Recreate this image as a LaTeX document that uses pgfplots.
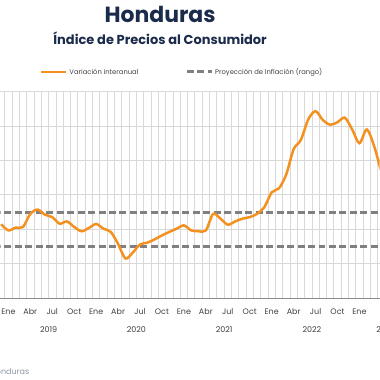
\documentclass[border=0pt]{standalone}
\usepackage{pgfplots}
\pgfplotsset{compat=1.18}
\usepackage{fontspec}
\setmainfont{Poppins}
\definecolor{navy}{HTML}{1B2B4B}
\definecolor{orangeL}{HTML}{F4901E}
\definecolor{dashg}{HTML}{808080}
\definecolor{gridg}{HTML}{D9D9D9}
\definecolor{axg}{HTML}{8C8C8C}
\definecolor{txtg}{HTML}{404040}
\definecolor{srcg}{HTML}{8C96A3}
\begin{document}
\begin{tikzpicture}
\path (0pt,0pt) rectangle (380pt,-380pt);
\node[font=\fontsize{22}{26}\selectfont\bfseries, text=navy] at (160pt,-14pt) {Honduras};
\node[font=\fontsize{13}{15}\selectfont\bfseries, text=navy] at (160pt,-38pt) {Índice de Precios al Consumidor};
% legend
\draw[orangeL, line width=2.5pt] (41pt,-72pt) -- (66pt,-72pt);
\node[anchor=west, inner sep=0pt, font=\fontsize{6.8}{8}\selectfont, text=txtg] at (69pt,-72pt) {Variación interanual};
\draw[dashg, line width=3pt, dash pattern=on 7pt off 3.5pt] (187pt,-72pt) -- (212pt,-72pt);
\node[anchor=west, inner sep=0pt, font=\fontsize{6.8}{8}\selectfont, text=txtg] at (215pt,-72pt) {Proyección de Inflación (rango)};
\begin{axis}[
  at={(0pt,-299pt)}, anchor=south west,
  scale only axis, width=380pt, height=207.3pt,
  xmin=-1.087, xmax=50.75, ymin=0, ymax=12,
  axis lines*=left,
  separate axis lines,
  x axis line style={draw=axg, line width=0.9pt},
  y axis line style={draw=none},
  ytick={0,2,...,12}, yticklabels={}, ymajorgrids,
  yticklabel style={overlay},
  major grid style={gridg, line width=0.8pt},
  ytick style={draw=none},
  xtick={0,3,...,51},
  xticklabels={Ene,Abr,Jul,Oct,Ene,Abr,Jul,Oct,Ene,Abr,Jul,Oct,Ene,Abr,Jul,Oct,Ene,Abr},
  xtick style={draw=none},
  xticklabel style={overlay, font=\fontsize{8}{9}\selectfont, text=txtg, anchor=center, yshift=-13.5pt, inner sep=0pt},
  minor xtick={-1.5,-0.5,...,55.5}, xminorgrids,
  minor grid style={gridg, line width=0.8pt},
  minor tick length=0pt,
  extra x ticks={-0.5,11.5,23.5,35.5,47.5},
  extra x tick labels={},
  extra x tick style={grid=none, tick align=outside, major tick length=34pt, tick style={draw=axg, line width=0.9pt}},
  clip mode=individual,
]
\addplot[dashg, line width=3pt, dash pattern=on 7pt off 3.5pt] coordinates {(-2,5) (56,5)};
\addplot[dashg, line width=3pt, dash pattern=on 7pt off 3.5pt] coordinates {(-2,3) (56,3)};
\addplot[orangeL, line width=2.5pt, smooth, tension=0.5] coordinates {
(-1,4.30) (0,3.94) (1,4.10) (2,4.14) (3,4.90) (4,5.15) (5,4.85) (6,4.71) (7,4.33) (8,4.46) (9,4.14) (10,3.89) (11,4.08)
(12,4.31) (13,4.04) (14,3.85) (15,3.15) (16,2.31) (17,2.65) (18,3.12) (19,3.23) (20,3.42) (21,3.65) (22,3.85) (23,4.04)
(24,4.23) (25,3.94) (26,3.89) (27,3.94) (28,4.90) (29,4.62) (30,4.27) (31,4.46) (32,4.62) (33,4.71) (34,4.90) (35,5.29)
(36,6.15) (37,6.38) (38,7.20) (39,8.65) (40,9.20) (41,10.38) (42,10.86) (43,10.34) (44,10.07) (45,10.22) (46,10.48) (47,9.80)
(48,9.00) (49,9.80) (50,8.84) (51,7.30)
};
\node[font=\fontsize{8}{9}\selectfont, text=txtg] at ([yshift=-31pt]axis cs:5.5,0) {2019};
\node[font=\fontsize{8}{9}\selectfont, text=txtg] at ([yshift=-31pt]axis cs:17.5,0) {2020};
\node[font=\fontsize{8}{9}\selectfont, text=txtg] at ([yshift=-31pt]axis cs:29.5,0) {2021};
\node[font=\fontsize{8}{9}\selectfont, text=txtg] at ([yshift=-31pt]axis cs:41.5,0) {2022};
\node[overlay, font=\fontsize{8}{9}\selectfont, text=txtg] at ([yshift=-31pt]axis cs:51.6,0) {2023};
\end{axis}
\node[overlay, anchor=east, inner sep=0pt, font=\fontsize{8}{9}\selectfont, text=srcg] at (29pt,-372pt) {Fuente: Banco Central de Honduras};
\end{tikzpicture}
\end{document}
